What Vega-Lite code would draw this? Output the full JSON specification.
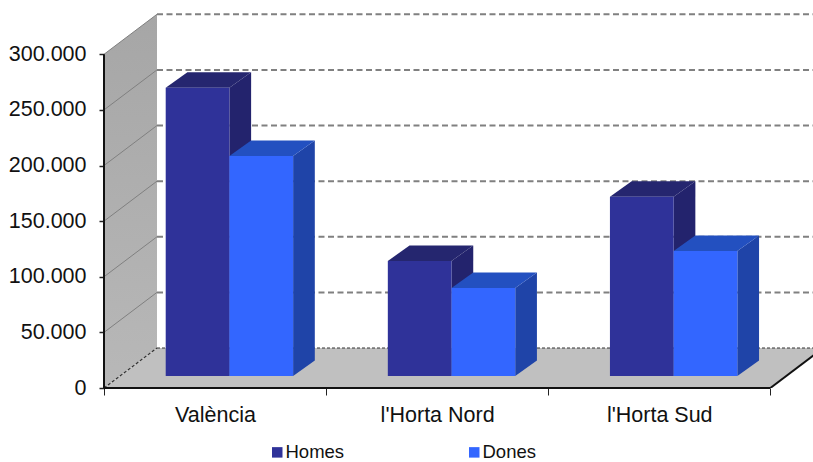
{"$schema":"https://vega.github.io/schema/vega-lite/v6.json","width":709,"height":388,"autosize":{"type":"none"},"padding":{"left":104,"top":0,"right":0,"bottom":74},"background":"white","view":{"stroke":null},"config":{"font":"Liberation Sans"},
"params":[{"name":"wdx","value":0.2386},{"name":"wdv","value":35960},{"name":"bdx","value":0.0977},{"name":"bdv","value":13935},{"name":"base","value":10788},{"name":"bw","value":0.2868}],
"datasets":{"bars":[{"region":"València","sex":"Homes","value":259200},{"region":"València","sex":"Dones","value":197800},{"region":"l'Horta Nord","sex":"Homes","value":103400},{"region":"l'Horta Nord","sex":"Dones","value":79100},{"region":"l'Horta Sud","sex":"Homes","value":161200},{"region":"l'Horta Sud","sex":"Dones","value":112400}],
"ticks":[{"tick":0},{"tick":50000},{"tick":100000},{"tick":150000},{"tick":200000},{"tick":250000},{"tick":300000}],
"corners":[{"k":0},{"k":1}]},
"layer":[
{"data":{"name":"corners"},"transform":[{"calculate":"datum.k*wdx","as":"x"},{"calculate":"datum.k*wdv","as":"y"},{"calculate":"300000+datum.k*wdv","as":"y2"}],
"mark":{"type":"area","orient":"vertical","clip":true,"color":{"gradient":"linear","x1":0,"y1":0,"x2":0,"y2":1,"stops":[{"offset":0,"color":"#a6a6a6"},{"offset":1,"color":"#b8b8b8"}]}},
"encoding":{"x":{"field":"x","type":"quantitative","scale":{"domain":[0,3.192],"nice":false,"zero":false},"axis":{"title":null,"values":[0,1,2,3],"grid":false,"domain":false,"tickSize":7,"tickColor":"#222222","tickWidth":1,"labelExpr":"datum.value==0?'València':datum.value==1?\"l'Horta Nord\":datum.value==2?\"l'Horta Sud\":''","labelOffset":111,"labelAlign":"center","labelBound":false,"labelFlush":false,"labelOverlap":false,"labelFontSize":21.5,"labelColor":"#111111","labelPadding":9,"labelFont":"Liberation Sans"}},"y":{"field":"y","type":"quantitative","scale":{"domain":[0,348800],"nice":false,"zero":false},"axis":{"title":null,"values":[0,50000,100000,150000,200000,250000,300000],"grid":false,"domain":false,"tickSize":5,"tickColor":"#222222","tickWidth":1.5,"labelExpr":"replace(format(datum.value,','),',','.')","labelFontSize":21.5,"labelColor":"#111111","labelPadding":13,"labelFont":"Liberation Sans","labelBound":false,"labelFlush":false,"labelOverlap":false}},"y2":{"field":"y2"}}},
{"data":{"name":"corners"},"transform":[{"calculate":"datum.k*wdx","as":"x"},{"calculate":"3+datum.k*wdx","as":"x2"},{"calculate":"datum.k*wdv","as":"y"}],
"mark":{"type":"area","orient":"horizontal","clip":true,"color":"#c0c0c0"},
"encoding":{"x":{"field":"x","type":"quantitative"},"x2":{"field":"x2"},"y":{"field":"y","type":"quantitative"}}},
{"data":{"name":"ticks"},"transform":[{"filter":"datum.tick>0"},{"calculate":"datum.tick+wdv","as":"yb"},{"calculate":"wdx","as":"xb"},{"calculate":"3.192","as":"xe"}],
"mark":{"type":"rule","color":"#808080","strokeWidth":2,"strokeDash":[6,3.5],"clip":true},
"encoding":{"x":{"field":"xb","type":"quantitative"},"x2":{"field":"xe"},"y":{"field":"yb","type":"quantitative"}}},
{"data":{"name":"ticks"},"transform":[{"filter":"datum.tick>0"},{"calculate":"datum.tick+wdv","as":"yb"},{"calculate":"wdx","as":"xb"},{"calculate":"0","as":"xa"}],
"mark":{"type":"rule","color":"#808080","strokeWidth":1},
"encoding":{"x":{"field":"xa","type":"quantitative"},"x2":{"field":"xb"},"y":{"field":"tick","type":"quantitative"},"y2":{"field":"yb"}}},
{"data":{"name":"ticks"},"transform":[{"filter":"datum.tick==0"},{"calculate":"wdv","as":"yb"},{"calculate":"wdx","as":"xb"},{"calculate":"3.192","as":"xe"}],
"mark":{"type":"rule","color":"#333333","strokeWidth":1.2,"strokeDash":[3,2],"clip":true},
"encoding":{"x":{"field":"xb","type":"quantitative"},"x2":{"field":"xe"},"y":{"field":"yb","type":"quantitative"}}},
{"data":{"name":"ticks"},"transform":[{"filter":"datum.tick==0"},{"calculate":"wdv","as":"yb"},{"calculate":"wdx","as":"xb"},{"calculate":"0","as":"xa"}],
"mark":{"type":"rule","color":"#333333","strokeWidth":1.2,"strokeDash":[3,2]},
"encoding":{"x":{"field":"xa","type":"quantitative"},"x2":{"field":"xb"},"y":{"field":"tick","type":"quantitative"},"y2":{"field":"yb"}}},
{"data":{"name":"bars"},"transform":[{"calculate":"indexof(['València',\"l'Horta Nord\",\"l'Horta Sud\"],datum.region)+0.2778+(datum.sex=='Homes'?0:bw)","as":"bx"},{"calculate":"datum.region+datum.sex","as":"id"},{"calculate":"0","as":"k0"},{"calculate":"1","as":"k1"},{"fold":["k0","k1"],"as":["kn","k"]},{"calculate":"datum.bx+bw+datum.k*bdx","as":"x"},{"calculate":"base+datum.k*bdv","as":"y"},{"calculate":"base+datum.value+datum.k*bdv","as":"y2"}],
"mark":{"type":"area","orient":"vertical"},
"encoding":{"x":{"field":"x","type":"quantitative"},"y":{"field":"y","type":"quantitative"},"y2":{"field":"y2"},"detail":{"field":"id"},"color":{"field":"sex","type":"nominal","legend":null,"scale":{"domain":["Homes","Dones"],"range":["#23236d","#1f44a8"]}}}},
{"data":{"name":"bars"},"transform":[{"calculate":"indexof(['València',\"l'Horta Nord\",\"l'Horta Sud\"],datum.region)+0.2778+(datum.sex=='Homes'?0:bw)","as":"bx"},{"calculate":"datum.region+datum.sex","as":"id"},{"calculate":"0","as":"k0"},{"calculate":"1","as":"k1"},{"fold":["k0","k1"],"as":["kn","k"]},{"calculate":"datum.bx+datum.k*bdx","as":"x"},{"calculate":"datum.bx+bw+datum.k*bdx","as":"x2"},{"calculate":"base+datum.value+datum.k*bdv","as":"y"}],
"mark":{"type":"area","orient":"horizontal"},
"encoding":{"x":{"field":"x","type":"quantitative"},"x2":{"field":"x2"},"y":{"field":"y","type":"quantitative"},"detail":{"field":"id"},"color":{"field":"sex","type":"nominal","legend":null,"scale":{"domain":["Homes","Dones"],"range":["#25266f","#2350c0"]}}}},
{"data":{"name":"bars"},"transform":[{"calculate":"indexof(['València',\"l'Horta Nord\",\"l'Horta Sud\"],datum.region)+0.2778+(datum.sex=='Homes'?0:bw)","as":"bx"},{"calculate":"datum.bx+bw","as":"bx2"},{"calculate":"base","as":"y"},{"calculate":"base+datum.value","as":"y2"}],
"mark":{"type":"rect"},
"encoding":{"x":{"field":"bx","type":"quantitative"},"x2":{"field":"bx2"},"y":{"field":"y","type":"quantitative"},"y2":{"field":"y2"},"color":{"field":"sex","type":"nominal","scale":{"domain":["Homes","Dones"],"range":["#2f3299","#3366ff"]},"legend":{"title":null,"orient":"none","legendX":164,"legendY":443,"direction":"horizontal","columns":2,"symbolType":"square","symbolSize":110,"symbolStrokeWidth":0,"labelFontSize":18.5,"labelColor":"#111111","labelFont":"Liberation Sans","labelOffset":-1,"columnPadding":120,"symbolOpacity":1}}}},
{"data":{"name":"ticks"},"transform":[{"filter":"datum.tick==0"},{"calculate":"0","as":"xa"},{"calculate":"3","as":"xb"}],
"mark":{"type":"rule","color":"#111111","strokeWidth":2},
"encoding":{"x":{"field":"xa","type":"quantitative"},"x2":{"field":"xb"},"y":{"field":"tick","type":"quantitative"}}},
{"data":{"name":"ticks"},"transform":[{"filter":"datum.tick==0"},{"calculate":"3","as":"xa"},{"calculate":"3+wdx","as":"xb"},{"calculate":"wdv","as":"yb"}],
"mark":{"type":"rule","color":"#111111","strokeWidth":2,"clip":true},
"encoding":{"x":{"field":"xa","type":"quantitative"},"x2":{"field":"xb"},"y":{"field":"tick","type":"quantitative"},"y2":{"field":"yb"}}},
{"data":{"name":"ticks"},"transform":[{"filter":"datum.tick==0"},{"calculate":"0","as":"xa"},{"calculate":"300000","as":"yt"}],
"mark":{"type":"rule","color":"#111111","strokeWidth":2},
"encoding":{"x":{"field":"xa","type":"quantitative"},"y":{"field":"tick","type":"quantitative"},"y2":{"field":"yt"}}}
],
"resolve":{"scale":{"color":"independent"}}}
